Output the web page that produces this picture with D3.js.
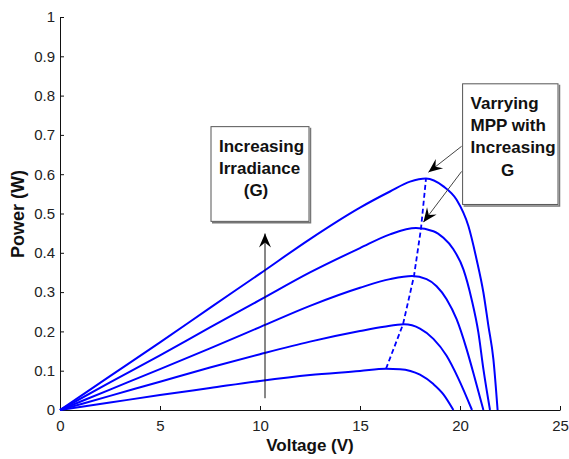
<!DOCTYPE html>
<html>
<head>
<meta charset="utf-8">
<script src="https://cdn.jsdelivr.net/npm/d3@7"></script>
<style>
  body { margin: 0; background: #fff; }
  svg { display: block; font-family: "Liberation Sans", Arial, sans-serif; }
</style>
</head>
<body>
<svg id="chart" width="569" height="459"></svg>
<script>
// P-V curves, [voltage (V), power (W)]
const curve1 = [[0,0],[2.5,0.019],[5,0.038],[7.5,0.056],[10,0.074],[12.5,0.089],[15,0.099],[16.3,0.105],[17,0.104],[18,0.09],[18.67,0.066],[19.17,0.04],[19.67,0]];
const curve2 = [[0,0],[2.5,0.036],[5,0.072],[7.5,0.108],[10,0.142],[12.5,0.174],[15,0.201],[16.2,0.212],[17.2,0.218],[18,0.207],[18.67,0.181],[19.33,0.138],[19.92,0.08],[20.6,0]];
const curve3 = [[0,0],[2.5,0.052],[5,0.104],[7.5,0.157],[10,0.211],[12.5,0.265],[15,0.311],[16.5,0.333],[17.6,0.341],[18.33,0.333],[18.83,0.315],[19.33,0.282],[19.83,0.231],[20.33,0.155],[20.75,0.079],[21.17,0]];
const curve4 = [[0,0],[2.5,0.07],[5,0.139],[7.5,0.21],[10,0.28],[12.5,0.35],[15,0.412],[16.5,0.447],[17.8,0.463],[18.67,0.455],[19.17,0.438],[19.67,0.409],[20.17,0.358],[20.58,0.282],[20.92,0.197],[21.17,0.104],[21.5,0]];
const curve5 = [[0,0],[2.5,0.086],[5,0.172],[7.5,0.26],[10,0.347],[12.5,0.435],[15,0.515],[16.5,0.556],[17.5,0.581],[18.3,0.589],[19.17,0.569],[19.83,0.535],[20.42,0.468],[20.83,0.383],[21.17,0.299],[21.42,0.214],[21.67,0.129],[21.88,0]];

// maximum power points, low to high irradiance
const mppV = [16.3, 17.15, 17.7, 18.05, 18.3];
const mppP = [0.105, 0.218, 0.341, 0.462, 0.589];

const xTicks = [0, 5, 10, 15, 20, 25];
const yTicks = [0, 0.1, 0.2, 0.3, 0.4, 0.5, 0.6, 0.7, 0.8, 0.9, 1];

const noteIrradiance = ["Increasing", "Irradiance", "(G)"];
const noteMpp = ["Varrying", "MPP with", "Increasing", "G"];

const svg = d3.select("#chart");

var x = d3.scaleLinear().domain([0, 25]).range([60, 560]);
var y = d3.scaleLinear().domain([0, 1]).range([410, 17]);

// arrowhead
svg.append("defs").append("marker")
  .attr("id", "head")
  .attr("viewBox", "-15 -7 16 14")
  .attr("refX", 0).attr("refY", 0)
  .attr("markerWidth", 16).attr("markerHeight", 14)
  .attr("markerUnits", "userSpaceOnUse")
  .attr("orient", "auto")
  .append("path")
  .attr("d", "M0,0L-14,-6L-9,0L-14,6Z")
  .attr("fill", "#000");

// axes, ticks pointing inward
var xAxis = svg.append("g")
  .attr("transform", `translate(0, ${y(0)})`)
  .call(d3.axisBottom(x).tickValues(xTicks).tickSize(-4).tickSizeOuter(0).tickPadding(10));
var yAxis = svg.append("g")
  .attr("transform", `translate(${x(0)}, 0)`)
  .call(d3.axisLeft(y).tickValues(yTicks).tickSize(-4).tickSizeOuter(0).tickPadding(5)
    .tickFormat(d3.format("~g")));

[xAxis, yAxis].forEach(function (g) {
  g.selectAll("path, line").attr("stroke", "#111");
  g.selectAll("text").attr("fill", "#222").style("font-size", "15px");
});

svg.append("text")
  .attr("x", 310).attr("y", 451)
  .attr("text-anchor", "middle")
  .style("font-size", "17px").style("font-weight", "bold")
  .attr("fill", "#111")
  .text("Voltage (V)");

svg.append("text")
  .attr("transform", "translate(24, 214) rotate(-90)")
  .attr("text-anchor", "middle")
  .style("font-size", "18px").style("font-weight", "bold")
  .attr("fill", "#111")
  .text("Power (W)");

// P-V curves
var line = d3.line()
  .x(function (d) { return x(d[0]); })
  .y(function (d) { return y(d[1]); })
  .curve(d3.curveMonotoneX);

svg.append("g")
  .selectAll("path")
  .data([curve1, curve2, curve3, curve4, curve5])
  .enter()
  .append("path")
  .attr("d", line)
  .attr("fill", "none")
  .attr("stroke", "#0000ff")
  .attr("stroke-width", 2)
  .attr("stroke-linejoin", "round");

// MPP locus
svg.append("path")
  .datum(mppV.map(function (v, i) { return [v, mppP[i]]; }))
  .attr("d", d3.line().x(function (d) { return x(d[0]); }).y(function (d) { return y(d[1]); }))
  .attr("fill", "none")
  .attr("stroke", "#0000ff")
  .attr("stroke-width", 1.8)
  .attr("stroke-dasharray", "5,3");

// annotation boxes (corners in data units)
function noteBox(v0, p0, v1, p1, lines) {
  var bx = x(v0), by = y(p0), bw = x(v1) - x(v0), bh = y(p1) - y(p0);
  var g = svg.append("g");
  g.append("rect")
    .attr("x", bx).attr("y", by).attr("width", bw).attr("height", bh)
    .attr("fill", "#fff").attr("stroke", "#555").attr("stroke-width", 1);
  // slight shadow on right and bottom edges
  g.append("path")
    .attr("d", `M${bx + bw + 1.5},${by + 1}V${by + bh + 1.5}H${bx + 1}`)
    .attr("fill", "none").attr("stroke", "#777").attr("stroke-width", 1.5);
  lines.forEach(function (t, i) {
    var last = i === lines.length - 1;
    g.append("text")
      .attr("x", last ? bx + 45 : bx + 8)
      .attr("y", by + 25 + i * 22.3)
      .attr("text-anchor", last ? "middle" : "start")
      .style("font-size", "17px").style("font-weight", "bold")
      .attr("fill", "#111")
      .text(t);
  });
}

noteBox(7.55, 0.721, 12.45, 0.48, noteIrradiance);
noteBox(20.13, 0.83, 24.9, 0.523, noteMpp);

// arrows
function arrow(v0, p0, v1, p1, colour) {
  svg.append("line")
    .attr("x1", x(v0)).attr("y1", y(p0))
    .attr("x2", x(v1)).attr("y2", y(p1))
    .attr("stroke", colour).attr("stroke-width", 1)
    .attr("marker-end", "url(#head)");
}

arrow(10.25, 0.03, 10.25, 0.449, "#111");
arrow(20.08, 0.671, 18.42, 0.605, "#444");
arrow(20.08, 0.607, 18.17, 0.478, "#444");
</script>
</body>
</html>
